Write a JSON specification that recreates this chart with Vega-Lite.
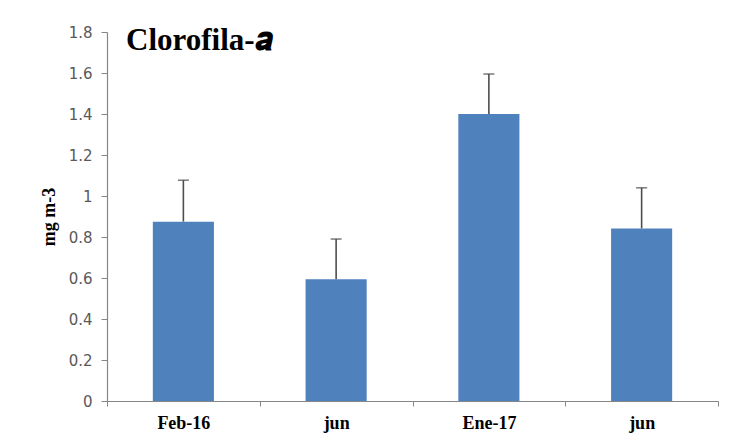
{
  "$schema": "https://vega.github.io/schema/vega-lite/v6.json",
  "width": 611,
  "height": 369,
  "autosize": "none",
  "padding": {"left": 107, "top": 32, "right": 15, "bottom": 45},
  "background": "white",
  "data": {
    "values": [
      {"periodo": "Feb-16", "clorofila": 0.875, "superior": 1.077},
      {"periodo": "jun", "clorofila": 0.594, "superior": 0.79},
      {"periodo": "Ene-17", "clorofila": 1.40, "superior": 1.595},
      {"periodo": "jun2", "clorofila": 0.842, "superior": 1.04}
    ]
  },
  "encoding": {
    "x": {
      "field": "periodo",
      "type": "nominal",
      "sort": ["Feb-16", "jun", "Ene-17", "jun2"],
      "scale": {"paddingInner": 0, "paddingOuter": 0},
      "axis": {
        "title": null,
        "labelAngle": 0,
        "labelExpr": "datum.label == 'jun2' ? 'jun' : datum.label",
        "labelFont": "Liberation Serif",
        "labelFontSize": 18,
        "labelFontWeight": "bold",
        "labelColor": "black",
        "labelPadding": 8,
        "tickBand": "extent",
        "tickSize": 5,
        "tickColor": "#868686",
        "domainColor": "#868686",
        "domainWidth": 1.2
      }
    }
  },
  "layer": [
    {
      "mark": {"type": "bar", "color": "#4F81BD", "width": {"band": 0.4}},
      "encoding": {
        "y": {
          "field": "clorofila",
          "type": "quantitative",
          "scale": {"domain": [0, 1.8], "nice": false},
          "axis": {
            "title": "mg m-3",
            "titleFont": "Liberation Serif",
            "titleFontSize": 18,
            "titleFontWeight": "bold",
            "titleColor": "black",
            "titlePadding": 10,
            "values": [0, 0.2, 0.4, 0.6, 0.8, 1, 1.2, 1.4, 1.6, 1.8],
            "format": "~g",
            "labelFont": "DejaVu Sans",
            "labelFontSize": 15,
            "labelColor": "#595959",
            "labelPadding": 9,
            "tickSize": 6,
            "tickColor": "#868686",
            "domainColor": "#868686",
            "domainWidth": 1.2,
            "grid": false
          }
        }
      }
    },
    {
      "mark": {"type": "rule", "color": "#4d4d4d", "strokeWidth": 1.6},
      "encoding": {
        "y": {"field": "clorofila", "type": "quantitative"},
        "y2": {"field": "superior"}
      }
    },
    {
      "mark": {"type": "tick", "color": "#4d4d4d", "size": 11, "thickness": 1.6},
      "encoding": {
        "y": {"field": "superior", "type": "quantitative"}
      }
    },
    {
      "data": {"values": [{"titulo": "Clorofila-𝒂"}]},
      "mark": {
        "type": "text",
        "font": "Times New Roman, Liberation Serif, serif",
        "fontSize": 31,
        "fontWeight": "bold",
        "color": "black",
        "align": "left",
        "baseline": "alphabetic",
        "dx": 19,
        "dy": 18
      },
      "encoding": {
        "x": {"datum": "Feb-16", "bandPosition": 0},
        "y": {"datum": 1.8, "type": "quantitative"},
        "text": {"field": "titulo"}
      }
    }
  ],
  "config": {
    "view": {"stroke": null}
  }
}
